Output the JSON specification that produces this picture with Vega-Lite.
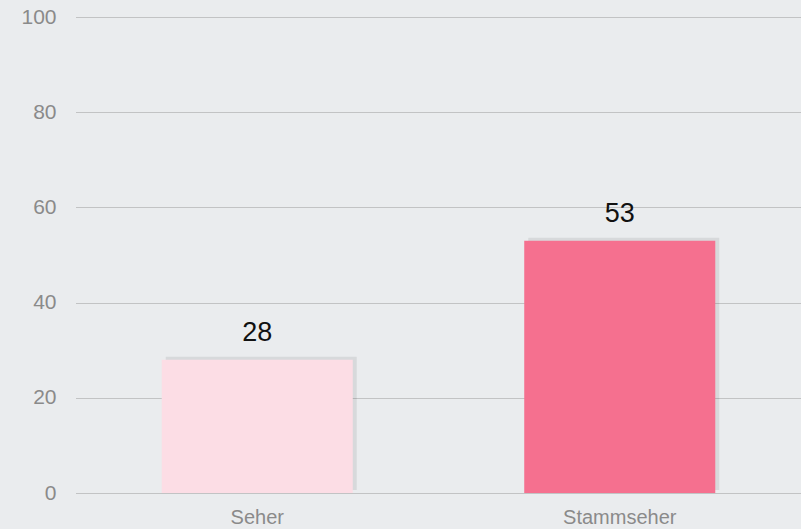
{
  "$schema": "https://vega.github.io/schema/vega-lite/v6.json",
  "width": 725,
  "height": 476,
  "autosize": "none",
  "padding": {"left": 76, "top": 17, "right": 0, "bottom": 36},
  "background": "#eaecee",
  "config": {
    "view": {"stroke": null},
    "font": "Liberation Sans"
  },
  "data": {
    "values": [
      {"gruppe": "Seher", "wert": 28},
      {"gruppe": "Stammseher", "wert": 53}
    ]
  },
  "encoding": {
    "x": {
      "field": "gruppe",
      "type": "nominal",
      "sort": null,
      "scale": {"paddingInner": 0.473, "paddingOuter": 0.2365},
      "axis": {
        "title": null,
        "labelAngle": 0,
        "labelFontSize": 20,
        "labelColor": "#8a8a8a",
        "labelPadding": 14,
        "domain": false,
        "ticks": false
      }
    },
    "y": {
      "field": "wert",
      "type": "quantitative",
      "scale": {"domain": [0, 100], "nice": false},
      "axis": {
        "title": null,
        "values": [0, 20, 40, 60, 80, 100],
        "labelFontSize": 21,
        "labelColor": "#8a8a8a",
        "labelPadding": 20,
        "domain": false,
        "ticks": false,
        "grid": true,
        "gridColor": "#9a9a9a",
        "gridDash": [1, 1],
        "gridWidth": 1
      }
    }
  },
  "layer": [
    {
      "mark": {"type": "bar", "color": "#000000", "opacity": 0.08, "xOffset": 4, "yOffset": -3},
      "encoding": {}
    },
    {
      "mark": {"type": "bar"},
      "encoding": {
        "color": {
          "field": "gruppe",
          "type": "nominal",
          "scale": {"domain": ["Seher", "Stammseher"], "range": ["#fcdde5", "#f5708f"]},
          "legend": null
        }
      }
    },
    {
      "mark": {"type": "text", "dy": -27, "fontSize": 27, "color": "#111111"},
      "encoding": {"text": {"field": "wert", "type": "quantitative"}}
    }
  ]
}
